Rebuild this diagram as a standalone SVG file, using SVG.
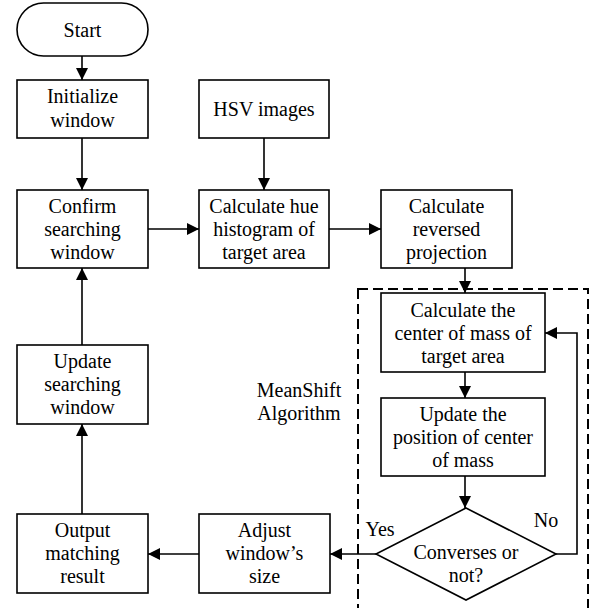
<svg xmlns="http://www.w3.org/2000/svg" width="603" height="608" viewBox="0 0 603 608">
<defs>
<marker id="ah" markerWidth="12" markerHeight="12" refX="12" refY="6" orient="auto" markerUnits="userSpaceOnUse">
<path d="M0,0 L12,6 L0,12 Z" fill="#000"/>
</marker>
</defs>
<style>
.b{fill:#fff;stroke:#000;stroke-width:1.6}
.t{font-family:"Liberation Serif","Times New Roman",serif;font-size:20px;fill:#000;text-anchor:middle}
.l{fill:none;stroke:#000;stroke-width:1.6;marker-end:url(#ah)}
</style>
<rect width="603" height="608" fill="#fff"/>
<rect x="358" y="289" width="230" height="330" fill="none" stroke="#000" stroke-width="2" stroke-dasharray="10,5"/>
<g id="connectors">
<path class="l" d="M82,56 V80"/>
<path class="l" d="M82,138 V190"/>
<path class="l" d="M264,138 V190"/>
<path class="l" d="M148,229 H199"/>
<path class="l" d="M329,229 H381"/>
<path class="l" d="M465,268 V293"/>
<path class="l" d="M465,372 V398"/>
<path class="l" d="M465,476 V508"/>
<path class="l" d="M556,554 H577 V333 H545"/>
<path class="l" d="M376,554 H330"/>
<path class="l" d="M199,554 H148"/>
<path class="l" d="M82,514 V424"/>
<path class="l" d="M82,345 V268"/>
</g>
<g id="start"><rect class="b" x="17" y="3" width="131" height="53" rx="26.5"/><text class="t" x="82.5" y="37">Start</text></g>
<g id="init"><rect class="b" x="17" y="80" width="131" height="58"/><text class="t" x="82.5" y="103">Initialize</text><text class="t" x="82.5" y="127">window</text></g>
<g id="confirm"><rect class="b" x="17" y="190" width="131" height="78"/><text class="t" x="82.5" y="213">Confirm</text><text class="t" x="82.5" y="236">searching</text><text class="t" x="82.5" y="259">window</text></g>
<g id="hsv"><rect class="b" x="199" y="80" width="130" height="58"/><text class="t" x="264" y="116">HSV images</text></g>
<g id="hue"><rect class="b" x="199" y="190" width="130" height="78"/><text class="t" x="264" y="213">Calculate hue</text><text class="t" x="264" y="236">histogram of</text><text class="t" x="264" y="259">target area</text></g>
<g id="proj"><rect class="b" x="381" y="190" width="131" height="78"/><text class="t" x="446.5" y="213">Calculate</text><text class="t" x="446.5" y="236">reversed</text><text class="t" x="446.5" y="259">projection</text></g>
<g id="center"><rect class="b" x="381" y="293" width="164" height="79"/><text class="t" x="463" y="317">Calculate the</text><text class="t" x="463" y="340">center of mass of</text><text class="t" x="463" y="363">target area</text></g>
<g id="updpos"><rect class="b" x="381" y="398" width="164" height="78"/><text class="t" x="463" y="421">Update the</text><text class="t" x="463" y="444">position of center</text><text class="t" x="463" y="467">of mass</text></g>
<g id="conv"><path class="b" d="M466,508 L556,554 L466,600 L376,554 Z"/><text class="t" x="466" y="559">Converses or</text><text class="t" x="466" y="582">not?</text></g>
<g id="adjust"><rect class="b" x="199" y="514" width="131" height="79"/><text class="t" x="264.5" y="537">Adjust</text><text class="t" x="264.5" y="560">window’s</text><text class="t" x="264.5" y="583">size</text></g>
<g id="output"><rect class="b" x="17" y="514" width="131" height="79"/><text class="t" x="82.5" y="537">Output</text><text class="t" x="82.5" y="560">matching</text><text class="t" x="82.5" y="583">result</text></g>
<g id="updwin"><rect class="b" x="17" y="345" width="131" height="79"/><text class="t" x="82.5" y="368">Update</text><text class="t" x="82.5" y="391">searching</text><text class="t" x="82.5" y="414">window</text></g>
<g id="labels">
<text class="t" x="299" y="397">MeanShift</text>
<text class="t" x="299" y="420">Algorithm</text>
<text class="t" x="380" y="536">Yes</text>
<text class="t" x="546" y="527">No</text>
</g>
</svg>
